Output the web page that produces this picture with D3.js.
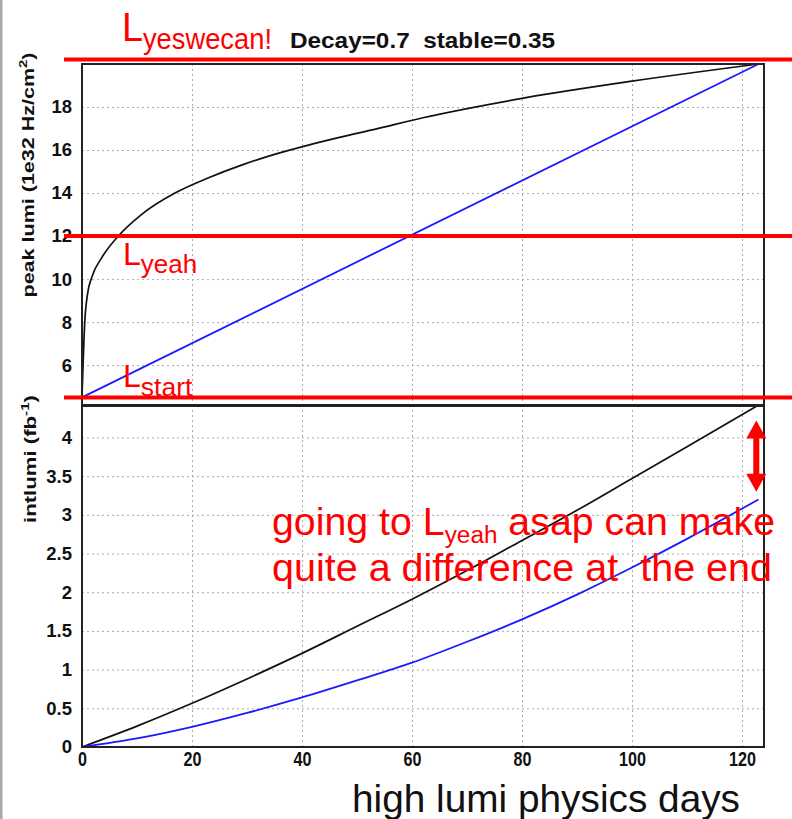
<!DOCTYPE html>
<html>
<head>
<meta charset="utf-8">
<script src="https://cdn.jsdelivr.net/npm/d3@7"></script>
<style>
  body { margin: 0; background: #fff; }
  svg { display: block; font-family: "Liberation Sans", Arial, sans-serif; }
  .grid line { stroke: #aaa; stroke-dasharray: 2,3; }
  .grid path { display: none; }
  .tick-lab path { display: none; }
  .tick-lab text { font-weight: bold; fill: #111; }
</style>
</head>
<body>
<svg id="chart" width="792" height="819"></svg>
<script>
// peak lumi, fast ramp (go to L_yeah asap)
var daysFast = [0, 0.5, 1.0, 1.8, 3.6, 6.6, 10.8, 16.9, 22.9, 29, 35, 41, 47, 53, 62, 80, 100, 123];
var peakFast = [4.5, 8.0, 9.3, 10.1, 11.0, 12.0, 13.0, 14.0, 14.7, 15.3, 15.8, 16.22, 16.6, 16.95, 17.5, 18.4, 19.2, 20.0];

// peak lumi, linear ramp
var daysSlow = [0, 123];
var peakSlow = [4.5, 20.0];

// integrated lumi (fb-1)
var daysInt = [0, 10, 20, 30, 40, 50, 60, 70, 80, 90, 100, 110, 123];
var intFast = [0, 0.27, 0.565, 0.88, 1.21, 1.56, 1.91, 2.28, 2.67, 3.06, 3.47, 3.88, 4.42];
var intSlow = [0, 0.11, 0.26, 0.44, 0.64, 0.86, 1.09, 1.36, 1.65, 1.97, 2.32, 2.69, 3.20];

// reference levels
var levelNames = ["yeswecan!", "yeah", "start"];
var levelValues = [20.25, 12, 4.5];

// ticks
var xTicks = [0, 20, 40, 60, 80, 100, 120];
var peakTicks = [6, 8, 10, 12, 14, 16, 18];
var intTicks = [0, 0.5, 1, 1.5, 2, 2.5, 3, 3.5, 4];

var svg = d3.select("#chart");

var left = 82, right = 764;
var topY0 = 64, topY1 = 406;
var botY0 = 405, botY1 = 747;

var x = d3.scaleLinear().domain([0, 124]).range([left, right]);
var yPeak = d3.scaleLinear().domain([4.1, 20]).range([topY1, topY0]);
var yInt = d3.scaleLinear().domain([0, 4.42]).range([botY1, botY0]);

// grey page edge on the left
svg.append("rect").attr("x", 0).attr("y", 0).attr("width", 2.5).attr("height", 819).attr("fill", "#a8a8a8");

function panel(y, y0, y1, ticks, fmt) {
  var g = svg.append("g");
  // grids
  g.append("g").attr("class", "grid")
    .attr("transform", "translate(0," + y1 + ")")
    .call(d3.axisBottom(x).tickValues(xTicks.slice(1)).tickSize(-(y1 - y0)).tickFormat(""));
  g.append("g").attr("class", "grid")
    .attr("transform", "translate(" + left + ",0)")
    .call(d3.axisLeft(y).tickValues(ticks).tickSize(-(right - left)).tickFormat(""));
  // labels
  g.append("g").attr("class", "tick-lab")
    .attr("transform", "translate(" + left + ",0)")
    .call(d3.axisLeft(y).tickValues(ticks).tickSize(0).tickPadding(10).tickFormat(fmt))
    .selectAll("text").style("font-size", "18.5px");
  return g;
}

panel(yPeak, topY0, topY1, peakTicks, d3.format("d"));
panel(yInt, botY0, botY1, intTicks, d3.format("~g"));

// x axis labels
var xl = svg.append("g").attr("class", "tick-lab")
  .attr("transform", "translate(0," + botY1 + ")")
  .call(d3.axisBottom(x).tickValues(xTicks).tickSize(0).tickPadding(4).tickFormat(d3.format("d")));
xl.selectAll("text").style("font-size", "19px")
  .attr("transform", "scale(0.85,1.1)");

// lines
var line = d3.line().curve(d3.curveMonotoneX);

function drawLine(days, vals, y, color, w) {
  svg.append("path")
    .attr("d", line(days.map(function(d, i) { return [x(d), y(vals[i])]; })))
    .attr("fill", "none").attr("stroke", color).attr("stroke-width", w);
}

drawLine(daysFast, peakFast, yPeak, "#111", 1.7);
drawLine(daysSlow, peakSlow, yPeak, "#1a1aff", 1.8);
drawLine(daysInt, intFast, yInt, "#111", 1.7);
drawLine(daysInt, intSlow, yInt, "#1a1aff", 1.8);

// frames
svg.append("rect").attr("x", left).attr("y", topY0).attr("width", right - left).attr("height", topY1 - topY0)
  .attr("fill", "none").attr("stroke", "#222").attr("stroke-width", 2);
svg.append("rect").attr("x", left).attr("y", botY0).attr("width", right - left).attr("height", botY1 - botY0)
  .attr("fill", "none").attr("stroke", "#222").attr("stroke-width", 2);

// axis titles
var t1 = svg.append("text")
  .attr("transform", "translate(34," + 175 + ") rotate(-90)")
  .attr("text-anchor", "middle")
  .attr("textLength", 245).attr("lengthAdjust", "spacingAndGlyphs")
  .style("font-weight", "bold").style("font-size", "16px").attr("fill", "#111");
t1.append("tspan").text("peak lumi (1e32 Hz/cm");
t1.append("tspan").text("2").attr("dy", -7).style("font-size", "11px");
t1.append("tspan").text(")").attr("dy", 7);

var t2 = svg.append("text")
  .attr("transform", "translate(36," + 459 + ") rotate(-90)")
  .attr("text-anchor", "middle")
  .attr("textLength", 128).attr("lengthAdjust", "spacingAndGlyphs")
  .style("font-weight", "bold").style("font-size", "16px").attr("fill", "#111");
t2.append("tspan").text("intlumi (fb");
t2.append("tspan").text("-1").attr("dy", -7).style("font-size", "11px");
t2.append("tspan").text(")").attr("dy", 7);

svg.append("text")
  .attr("x", 352).attr("y", 812)
  .attr("textLength", 388).attr("lengthAdjust", "spacingAndGlyphs")
  .style("font-size", "39px").attr("fill", "#111")
  .text("high lumi physics days");

// title
svg.append("text")
  .attr("x", 290).attr("y", 48)
  .attr("textLength", 265).attr("lengthAdjust", "spacingAndGlyphs")
  .style("font-weight", "bold").style("font-size", "22px").style("white-space", "pre")
  .attr("fill", "#111")
  .text("Decay=0.7  stable=0.35");

// red reference levels
var red = "#ff0000";
levelValues.forEach(function(v) {
  var yy = v > 20 ? yPeak(20) - 4.5 : yPeak(v);
  svg.append("line").attr("x1", 64).attr("x2", 792).attr("y1", yy).attr("y2", yy)
    .attr("stroke", red).attr("stroke-width", 4);
});

function levelLabel(name, xx, yL, big, small, drop, len) {
  var t = svg.append("text").attr("x", xx).attr("y", yL).attr("fill", red);
  if (len) t.attr("textLength", len).attr("lengthAdjust", "spacingAndGlyphs");
  t.append("tspan").text("L").style("font-size", big + "px");
  t.append("tspan").text(name).style("font-size", small + "px").attr("dy", drop);
}
levelLabel(levelNames[0], 122, 41, 40, 29, 8, 150);
levelLabel(levelNames[1], 123, yPeak(12) + 29, 32, 26, 8, null);
levelLabel(levelNames[2], 123, yPeak(4.5) - 10, 32, 26.5, 9, null);

// double arrow at the end
var ax = x(122.6), aTop = yInt(4.22), aBot = yInt(3.3);
svg.append("path")
  .attr("d", "M" + ax + "," + aTop + " l-10,18 h7 V" + (aBot - 18) + " h-7 l10,18 l10,-18 h-7 V" + (aTop + 18) + " h7 Z")
  .attr("fill", red);

// message
var m1 = svg.append("text").attr("x", 272).attr("y", 535).attr("fill", red)
  .attr("textLength", 503).attr("lengthAdjust", "spacingAndGlyphs")
  .style("font-size", "38px").style("white-space", "pre");
m1.append("tspan").text("going to L");
m1.append("tspan").text("yeah").style("font-size", "23.5px").attr("dy", 8);
m1.append("tspan").text(" asap can make").attr("dy", -8);

svg.append("text").attr("x", 272).attr("y", 581).attr("fill", red)
  .attr("textLength", 500).attr("lengthAdjust", "spacingAndGlyphs")
  .style("font-size", "38px").style("white-space", "pre")
  .text("quite a difference at  the end");
</script>
</body>
</html>
